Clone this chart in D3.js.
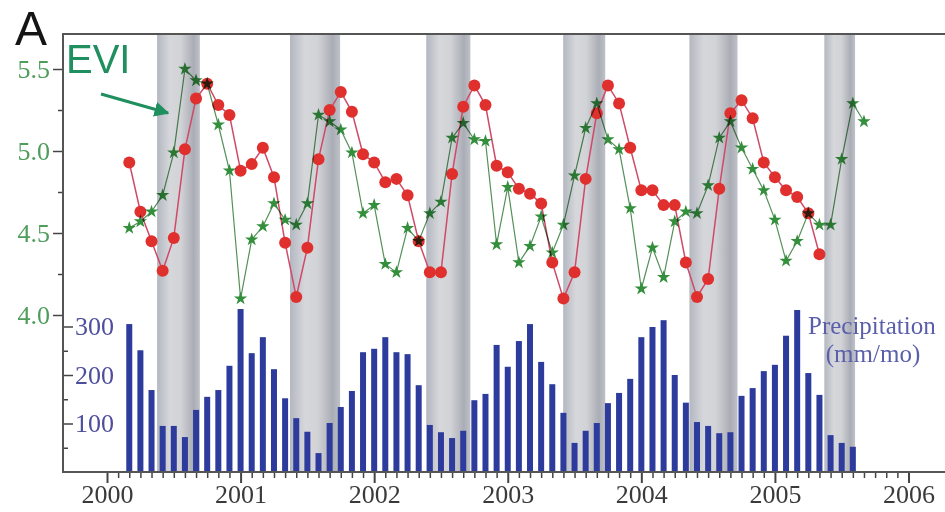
<!DOCTYPE html>
<html>
<head>
  <meta charset="utf-8">
  <title>EVI and precipitation</title>
  <script src="https://d3js.org/d3.v7.min.js"></script>
  <style>
    body { margin: 0; background: #fff; }
    .serif { font-family: "Liberation Serif", "DejaVu Serif", serif; }
  </style>
</head>
<body>
<svg class="chart"></svg>
<script>

// ---- data ----
// monthly series start in March 2000
const firstMonth = 2000 + 2 / 12;

// precipitation, mm/month (Mar 2000 .. Aug 2005)
const precip = [305, 251, 169, 95, 95, 72, 128, 155, 169, 219, 336, 245, 278, 212, 152, 111, 83, 39,
  101, 134, 167, 247, 254, 278, 247, 243, 179, 97, 82, 70, 85, 148, 161, 262, 217, 270, 305, 227,
  181, 122, 60, 85, 101, 142, 163, 192, 278, 299, 313, 200, 143, 103, 95, 80, 82, 157, 173, 208,
  221, 281, 334, 204, 159, 76, 60, 52];

// EVI (green stars, Mar 2000 .. Sep 2005)
const evi = [4.53, 4.57, 4.63, 4.73, 4.99, 5.50, 5.43, 5.41, 5.16, 4.88, 4.10, 4.46, 4.54, 4.68,
  4.58, 4.55, 4.68, 5.22, 5.18, 5.13, 4.99, 4.62,
  4.67, 4.31, 4.26, 4.53, 4.45, 4.62, 4.69, 5.08, 5.17, 5.07, 5.06, 4.43, 4.78, 4.32, 4.42, 4.60,
  4.38, 4.55, 4.85, 5.14, 5.29, 5.07, 5.01, 4.65,
  4.16, 4.41, 4.23, 4.57, 4.63, 4.62, 4.79, 5.08, 5.18, 5.02, 4.89, 4.76, 4.58, 4.33, 4.45, 4.62,
  4.55, 4.55, 4.95, 5.29, 5.18];

// red circle series (Mar 2000 .. May 2005), same scale as EVI
const redSeries = [4.93, 4.63, 4.45, 4.27, 4.47, 5.01, 5.32, 5.41, 5.28, 5.22, 4.88, 4.92, 5.02,
  4.84, 4.44, 4.11, 4.41, 4.95, 5.25, 5.36, 5.24, 4.98, 4.93,
  4.81, 4.83, 4.73, 4.45, 4.26, 4.26, 4.86, 5.27, 5.40, 5.28, 4.91, 4.87, 4.77, 4.74, 4.68, 4.32,
  4.10, 4.26, 4.83, 5.23, 5.40, 5.29, 5.02,
  4.76, 4.76, 4.67, 4.67, 4.32, 4.11, 4.22, 4.77, 5.23, 5.31, 5.20, 4.93, 4.84, 4.76, 4.72, 4.62, 4.37];

// dry season bands (decimal years)
const dryBands = [[2000.375, 2000.695], [2001.37, 2001.745], [2002.39, 2002.72],
  [2003.415, 2003.73], [2004.36, 2004.72], [2005.37, 2005.60]];

const yearTicks = [2000, 2001, 2002, 2003, 2004, 2005, 2006];
const eviTicks = [4.0, 4.5, 5.0, 5.5];
const eviMinor = [4.25, 4.75, 5.25];
const precipTicks = [100, 200, 300];
const precipMinor = [50, 150, 250];

// ---- layout ----
const W = 945, H = 512;
const frame = {left: 63, top: 34, right: 945, bottom: 472};

const svg = d3.select(".chart")
  .attr("width", W)
  .attr("height", H);

const monthX = i => firstMonth + i / 12;

// scales
const x = d3.scaleLinear().domain([2000, 2006]).range([107, 908.5]);
const yEvi = d3.scaleLinear().domain([4.0, 5.5]).range([315, 69]);
const yPre = d3.scaleLinear().domain([0, 300]).range([frame.bottom, 326.5]);

// gradient for the grey bands (cylinder look)
const grad = svg.append("defs").append("linearGradient")
  .attr("id", "band").attr("x1", 0).attr("x2", 1).attr("y1", 0).attr("y2", 0);
[[0, "#b3b7c0"], [0.3, "#d6d7db"], [0.55, "#d2d3d7"], [0.85, "#aaadb5"], [1, "#bec1c7"]]
  .forEach(s => grad.append("stop").attr("offset", s[0]).attr("stop-color", s[1]));

svg.append("g")
  .selectAll("rect")
  .data(dryBands)
  .join("rect")
    .attr("x", d => x(d[0]))
    .attr("width", d => x(d[1]) - x(d[0]))
    .attr("y", frame.top)
    .attr("height", frame.bottom - frame.top)
    .attr("fill", "url(#band)");

// precipitation bars
svg.append("g")
  .selectAll("rect")
  .data(precip)
  .join("rect")
    .attr("x", (d, i) => x(monthX(i)) - 3)
    .attr("width", 6)
    .attr("y", d => yPre(d))
    .attr("height", d => yPre(0) - yPre(d))
    .attr("fill", "#2d3c9c");

// red series
svg.append("path")
  .datum(redSeries)
  .attr("fill", "none")
  .attr("stroke", "#cf4a68")
  .attr("stroke-width", 1.5)
  .attr("d", d3.line().x((d, i) => x(monthX(i))).y(d => yEvi(d)));

svg.append("g")
  .selectAll("circle")
  .data(redSeries)
  .join("circle")
    .attr("cx", (d, i) => x(monthX(i)))
    .attr("cy", d => yEvi(d))
    .attr("r", 6)
    .attr("fill", "#e0302e");

// EVI series
const gEvi = svg.append("g").style("mix-blend-mode", "multiply");
gEvi.append("path")
  .datum(evi)
  .attr("fill", "none")
  .attr("stroke", "#55905a")
  .attr("stroke-width", 1.2)
  .attr("d", d3.line().x((d, i) => x(monthX(i))).y(d => yEvi(d)));

gEvi.selectAll(".star")
  .data(evi)
  .join("path")
    .attr("class", "star")
    .attr("transform", (d, i) => `translate(${x(monthX(i))},${yEvi(d)})`)
    .attr("d", d3.symbol(d3.symbolStar, 55))
    .attr("fill", "#338f3c");

// ---- axes ----
const axisColor = "#444";

// EVI axis (left, ticks outward)
const eviAxis = svg.append("g")
  .attr("transform", `translate(${frame.left},0)`)
  .call(d3.axisLeft(yEvi).tickValues(eviTicks).tickFormat(d3.format(".1f")).tickSize(10).tickPadding(3));
eviAxis.select(".domain").remove();
eviAxis.selectAll("line").attr("stroke", axisColor).attr("stroke-width", 1.5);
eviAxis.selectAll("text")
  .attr("class", "serif")
  .style("font-size", "26px")
  .attr("fill", "#4f9d5b");

const eviMinorAxis = svg.append("g")
  .attr("transform", `translate(${frame.left},0)`)
  .call(d3.axisLeft(yEvi).tickValues(eviMinor).tickFormat("").tickSize(5));
eviMinorAxis.select(".domain").remove();
eviMinorAxis.selectAll("line").attr("stroke", axisColor).attr("stroke-width", 1.5);

// precipitation axis (ticks inward, labels inside)
const preAxis = svg.append("g")
  .attr("transform", `translate(${frame.left},0)`)
  .call(d3.axisRight(yPre).tickValues(precipTicks).tickSize(10).tickPadding(2));
preAxis.select(".domain").remove();
preAxis.selectAll("line").attr("stroke", axisColor).attr("stroke-width", 1.5);
preAxis.selectAll("text")
  .attr("class", "serif")
  .style("font-size", "26px")
  .attr("fill", "#4e4f9c");

const preMinorAxis = svg.append("g")
  .attr("transform", `translate(${frame.left},0)`)
  .call(d3.axisRight(yPre).tickValues(precipMinor).tickFormat("").tickSize(5));
preMinorAxis.select(".domain").remove();
preMinorAxis.selectAll("line").attr("stroke", axisColor).attr("stroke-width", 1.5);

// time axis
const monthTicks = d3.range(0, 73).map(m => 2000 + m / 12).filter(m => m % 1 !== 0);
const xMinor = svg.append("g")
  .attr("transform", `translate(0,${frame.bottom})`)
  .call(d3.axisBottom(x).tickValues(monthTicks).tickFormat("").tickSize(6));
xMinor.select(".domain").remove();
xMinor.selectAll("line").attr("stroke", axisColor).attr("stroke-width", 1.5);

const xAxis = svg.append("g")
  .attr("transform", `translate(0,${frame.bottom})`)
  .call(d3.axisBottom(x).tickValues(yearTicks).tickFormat(d3.format("d")).tickSize(11).tickPadding(2));
xAxis.select(".domain").remove();
xAxis.selectAll("line").attr("stroke", axisColor).attr("stroke-width", 2);
xAxis.selectAll("text")
  .attr("class", "serif")
  .style("font-size", "26px")
  .attr("fill", "#3a3a3a");

// frame lines (top, left, bottom)
svg.append("path")
  .attr("d", `M${frame.right},${frame.top}H${frame.left}V${frame.bottom}H${frame.right}`)
  .attr("fill", "none")
  .attr("stroke", "#555")
  .attr("stroke-width", 2);

// ---- annotations ----
svg.append("text")
  .attr("x", 15).attr("y", 45)
  .style("font-family", "Liberation Sans, Arial, sans-serif")
  .style("font-size", "48px")
  .attr("fill", "#151515")
  .text("A");

svg.append("text")
  .attr("x", 66).attr("y", 73)
  .style("font-family", "Liberation Sans, Arial, sans-serif")
  .style("font-size", "40px")
  .attr("fill", "#1f8f5f")
  .text("EVI");

svg.append("defs").append("marker")
  .attr("id", "arrowHead")
  .attr("viewBox", "0 0 10 10")
  .attr("refX", 9).attr("refY", 5)
  .attr("markerWidth", 5).attr("markerHeight", 5)
  .attr("orient", "auto")
  .append("path")
    .attr("d", "M0,0L10,5L0,10z")
    .attr("fill", "#1f8f5f");

svg.append("line")
  .attr("x1", 101).attr("y1", 94)
  .attr("x2", 168).attr("y2", 113)
  .attr("stroke", "#1f8f5f")
  .attr("stroke-width", 3)
  .attr("marker-end", "url(#arrowHead)");

svg.append("text")
  .attr("class", "serif")
  .attr("x", 808).attr("y", 334)
  .style("font-size", "25px")
  .attr("fill", "#5a5eab")
  .text("Precipitation");

svg.append("text")
  .attr("class", "serif")
  .attr("x", 873).attr("y", 362)
  .attr("text-anchor", "middle")
  .style("font-size", "25px")
  .attr("fill", "#5a5eab")
  .text("(mm/mo)");

</script>
</body>
</html>
